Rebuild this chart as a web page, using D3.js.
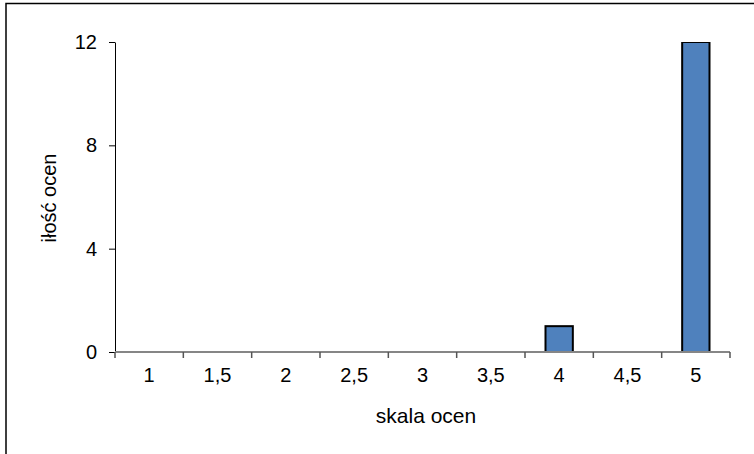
<!DOCTYPE html>
<html>
<head>
<meta charset="utf-8">
<style>
  body { margin: 0; background: #fff; }
  svg { font-family: Arial, 'Liberation Sans', sans-serif; }
</style>
</head>
<body>
<svg width="754" height="454"></svg>
<script src="https://d3js.org/d3.v7.min.js"></script>
<script>
  // oceny i ich liczba
  let categories = ["1", "1,5", "2", "2,5", "3", "3,5", "4", "4,5", "5"];
  let counts = [0, 0, 0, 0, 0, 0, 1, 0, 12];
  let yTicks = [0, 4, 8, 12];

  let svg = d3.select("svg");
  let margin = { left: 115, right: 24, top: 42, bottom: 102 };
  let width = 754 - margin.left - margin.right;
  let height = 454 - margin.top - margin.bottom;

  // frame (only left and top edges visible)
  svg.append("path")
    .attr("d", "M6,454 V3.5 H754")
    .attr("fill", "none")
    .attr("stroke", "#000")
    .attr("stroke-width", 1.5);

  let g = svg.append("g").attr("transform", `translate(${margin.left},${margin.top})`);

  let x = d3.scaleBand().domain(categories).range([0, width]);
  let y = d3.scaleLinear().domain([0, 12]).range([height, 0]);

  g.append("clipPath").attr("id", "plot")
    .append("rect").attr("x", -5).attr("y", 0).attr("width", width + 10).attr("height", height + 5);

  // bars
  g.append("g")
    .attr("clip-path", "url(#plot)")
    .selectAll("rect")
    .data(categories.map((c, i) => ({ c: c, v: counts[i] })).filter(d => d.v > 0))
    .join("rect")
    .attr("x", d => x(d.c) + x.bandwidth() * 0.3)
    .attr("width", x.bandwidth() * 0.4)
    .attr("y", d => y(d.v))
    .attr("height", d => y(0) - y(d.v))
    .attr("fill", "#4F81BD")
    .attr("stroke", "#000")
    .attr("stroke-width", 2);

  // y axis
  let yAxis = g.append("g")
    .call(d3.axisLeft(y).tickValues(yTicks).tickSize(6).tickPadding(12).tickSizeOuter(0));
  yAxis.select(".domain").attr("stroke", "#000");
  yAxis.selectAll("text").attr("font-size", 20).attr("fill", "#000");

  // x axis with ticks between categories
  let xAxis = g.append("g").attr("transform", `translate(0,${height})`);
  xAxis.append("line")
    .attr("x1", 0).attr("x2", width)
    .attr("stroke", "#868686").attr("stroke-width", 2);
  let bounds = categories.map(c => x(c)).concat([width]);
  xAxis.selectAll(".tk")
    .data(bounds)
    .join("line")
    .attr("x1", d => d).attr("x2", d => d)
    .attr("y1", 0).attr("y2", 6)
    .attr("stroke", "#555").attr("stroke-width", 1.5);
  xAxis.selectAll(".lbl")
    .data(categories)
    .join("text")
    .attr("x", d => x(d) + x.bandwidth() / 2)
    .attr("y", 30)
    .attr("text-anchor", "middle")
    .attr("font-size", 20)
    .text(d => d);

  // titles
  svg.append("text")
    .attr("x", 426).attr("y", 423)
    .attr("text-anchor", "middle")
    .attr("font-size", 21)
    .text("skala ocen");

  svg.append("text")
    .attr("transform", "translate(56,198) rotate(-90)")
    .attr("text-anchor", "middle")
    .attr("font-size", 20)
    .text("iłość ocen");
</script>
</body>
</html>
